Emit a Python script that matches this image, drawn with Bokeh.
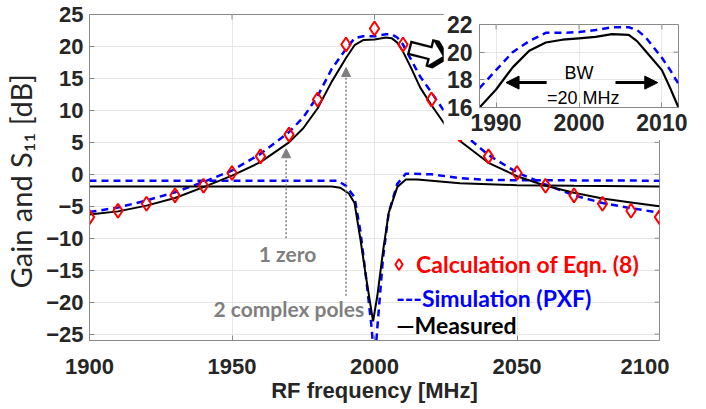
from bokeh.plotting import figure
from bokeh.models import Range1d, FixedTicker, Arrow, NormalHead
from bokeh.core.properties import value
from bokeh.embed import file_html
from bokeh.resources import INLINE
import math

# ---------------- data ----------------
calc_freq = [1900, 1910, 1920, 1930, 1940, 1950, 1960, 1970, 1980, 1990, 2000,
             2010, 2020, 2030, 2040, 2050, 2060, 2070, 2080, 2090, 2100]
calc_gain = [-6.7, -5.7, -4.6, -3.3, -1.8, 0.2, 2.8, 6.2, 11.7, 20.3, 22.8,
             20.3, 11.7, 6.2, 2.8, 0.2, -1.8, -3.3, -4.6, -5.7, -6.7]

gain_freq = [1900, 1910, 1920, 1930, 1940, 1950, 1960, 1970, 1975, 1980, 1985, 1990,
             1993, 1996, 2000, 2004, 2006, 2008, 2010, 2013, 2016, 2020, 2025, 2030,
             2040, 2050, 2060, 2070, 2080, 2090, 2100]
meas_gain = [-6.3, -5.8, -4.9, -3.7, -2.0, -0.2, 1.9, 5.0, 7.2, 10.3, 14.5, 18.2,
             20.2, 21.0, 21.1, 21.4, 21.3, 20.6, 19.2, 16.5, 13.6, 10.8, 7.6, 5.2,
             1.8, -0.3, -1.8, -2.9, -3.8, -4.4, -5.0]
sim_gain = [-5.9, -5.2, -4.1, -2.8, -1.2, 0.6, 3.2, 6.6, 8.9, 12.2, 16.5, 19.6,
            21.3, 21.6, 21.6, 21.9, 21.9, 21.4, 20.3, 17.8, 15.3, 12.8, 9.5, 6.8,
            3.0, 0.3, -1.6, -3.3, -4.5, -5.3, -6.0]

s11_meas_freq = [1900, 1985, 1988, 1991, 1993, 1995, 1997, 1999.5, 2001, 2003, 2005,
                 2008, 2011, 2015, 2030, 2050, 2070, 2100]
s11_meas = [-1.9, -1.9, -2.1, -3.0, -4.5, -10.0, -16.0, -23.0, -19.0, -12.0, -6.0,
            -2.0, -0.8, -0.8, -1.4, -1.7, -1.8, -1.9]
s11_sim_freq = [1900, 1987, 1990, 1993, 1995, 1997, 1999, 2000, 2001, 2003, 2005,
                2008, 2011, 2020, 2030, 2040, 2100]
s11_sim = [-1.0, -1.0, -1.8, -3.6, -8.8, -16.0, -24.0, -30.0, -24.0, -13.0, -6.0,
           -1.5, 0.1, 0.0, -0.6, -0.9, -1.0]

inset_freq = [1988, 1990, 1992, 1994, 1996, 1998, 2000, 2002, 2004, 2006, 2007,
              2008, 2010, 2011, 2012]
inset_meas = [16.0, 17.3, 18.9, 20.1, 20.7, 20.9, 21.0, 21.1, 21.3, 21.25, 20.8,
              20.1, 18.7, 17.4, 16.0]
inset_sim = [17.4, 18.7, 20.0, 20.8, 21.4, 21.4, 21.45, 21.6, 21.8, 21.8, 21.6,
             21.1, 19.6, 18.7, 17.7]

main_xticks = [1900, 1950, 2000, 2050, 2100]
main_yticks = [-25, -20, -15, -10, -5, 0, 5, 10, 15, 20, 25]
inset_xticks = [1990, 2000, 2010]
inset_yticks = [16, 18, 20, 22]

legend_labels = ["Calculation of Eqn. (8)", "---Simulation (PXF)", "\u2014Measured"]

# ---------------- styling ----------------
AX = "#8a8a8a"
TXT = "#262626"
GRID = "#e6e6e6"
BLUE = "#0000ff"
RED = "#ff0000"
GRAY = "#7f7f7f"
AXFONT = "Liberation Sans"


def style(fig, xt, yt, size, xr, yr):
    for ax in list(fig.below) + list(fig.left):
        ax.axis_line_color = AX
        ax.major_tick_line_color = AX
        ax.major_tick_in = 5
        ax.major_tick_out = 0
        ax.minor_tick_line_color = None
        ax.major_label_text_font = AXFONT
        ax.major_label_text_font_style = "bold"
        ax.major_label_text_font_size = size
        ax.major_label_text_color = TXT
    fig.below[0].ticker = FixedTicker(ticks=xt)
    fig.left[0].ticker = FixedTicker(ticks=yt)
    fig.xgrid.ticker = FixedTicker(ticks=xt)
    fig.ygrid.ticker = FixedTicker(ticks=yt)
    fig.grid.grid_line_color = GRID
    fig.outline_line_color = AX
    fig.outline_line_width = 1
    # inward tick marks on the top and right edges of the box
    fig.ray(x=xt, y=[yr[1]] * len(xt), length=5, angle=-math.pi / 2,
            length_units="screen", line_color=AX, line_width=1)
    fig.ray(x=[xr[1]] * len(yt), y=yt, length=5, angle=math.pi,
            length_units="screen", line_color=AX, line_width=1)


# ---------------- main figure ----------------
MX = (1900, 2100)
MY = (-26, 25)
p = figure(frame_width=570, frame_height=326, x_range=Range1d(*MX),
           y_range=Range1d(*MY), output_backend="svg", toolbar_location=None,
           name="main", min_border_left=85, min_border_top=14, min_border_right=10,
           min_border_bottom=50)
style(p, main_xticks, main_yticks, "22px", MX, MY)
xa = p.below[0]
ya = p.left[0]
xa.major_label_standoff = 18
ya.major_label_standoff = 6
xa.axis_label = "RF frequency [MHz]"
xa.axis_label_text_font = AXFONT
xa.axis_label_text_font_style = "bold"
xa.axis_label_text_font_size = "22px"
xa.axis_label_text_color = TXT
xa.axis_label_standoff = 1
ya.axis_label = "Gain and S\u2081\u2081  [dB]"
ya.axis_label_text_font = "Lato"
ya.axis_label_text_font_style = "normal"
ya.axis_label_text_font_size = "29px"
ya.axis_label_text_color = TXT
ya.axis_label_standoff = 5

p.line(s11_sim_freq, s11_sim, line_color=BLUE, line_width=2.5, line_dash="7 5")
p.line(gain_freq, sim_gain, line_color=BLUE, line_width=2.5, line_dash="7 5")
p.line(s11_meas_freq, s11_meas, line_color="black", line_width=2)
p.line(gain_freq, meas_gain, line_color="black", line_width=2)
p.scatter(calc_freq, calc_gain, marker="diamond", size=14, fill_color=None,
          line_color=RED, line_width=2)

# annotations
ghead = dict(size=9, fill_color=GRAY, line_color=GRAY)
p.add_layout(Arrow(end=NormalHead(**ghead), x_start=1969, y_start=-10, x_end=1969,
                   y_end=4.0, line_color=GRAY, line_width=1.5, line_dash="2 2"))
p.add_layout(Arrow(end=NormalHead(**ghead), x_start=1990, y_start=-19, x_end=1990,
                   y_end=16.7, line_color=GRAY, line_width=1.5, line_dash="2 2"))
annot = dict(text_font=value("Lato"), text_font_style="bold", text_font_size="21px",
             text_color=GRAY, text_baseline="middle")
p.text(x=[1969.5], y=[-12.4], text=["1 zero"], text_align="center", **annot)
p.text(x=[1996.4], y=[-21.0], text=["2 complex poles"], text_align="right", **annot)

leg = dict(text_font=value("Lato"), text_font_style="bold", text_font_size="23px",
           text_baseline="middle", text_align="left")
p.scatter([2008.6], [-14.1], marker="diamond", size=11, fill_color=None,
          line_color=RED, line_width=2)
p.text(x=[2014.6], y=[-14.1], text=[legend_labels[0]], text_color=RED, **leg)
p.text(x=[2007.6], y=[-19.3], text=[legend_labels[1]], text_color=BLUE, **leg)
p.text(x=[2007.6], y=[-23.5], text=[legend_labels[2]], text_color="black", **leg)

# hollow block arrow pointing at the inset
p.text(x=[2019.6], y=[19.3], text=["\u27a9"], angle=-0.25, text_align="center",
       text_baseline="middle", text_font=value("DejaVu Sans"),
       text_font_size="60px", text_color="black")

# ---------------- inset ----------------
IX = (1988, 2012)
IY = (16, 22)
q = figure(frame_width=199, frame_height=83, x_range=Range1d(*IX),
           y_range=Range1d(*IY), output_backend="svg", toolbar_location=None,
           name="inset", min_border_left=35, min_border_top=24, min_border_right=29,
           min_border_bottom=33)
style(q, inset_xticks, inset_yticks, "23px", IX, IY)
q.below[0].major_label_standoff = 6
q.left[0].major_label_standoff = 7
q.background_fill_color = "white"
q.border_fill_color = "white"
q.line(inset_freq, inset_sim, line_color=BLUE, line_width=2.5, line_dash="7 5")
q.line(inset_freq, inset_meas, line_color="black", line_width=2.2)
bhead = dict(size=13, fill_color="black", line_color="black")
q.add_layout(Arrow(end=NormalHead(**bhead), x_start=1996.1, y_start=17.8,
                   x_end=1991.2, y_end=17.8, line_width=3))
q.add_layout(Arrow(end=NormalHead(**bhead), x_start=2004.4, y_start=17.8,
                   x_end=2009.5, y_end=17.8, line_width=3))
itxt = dict(text_font=value(AXFONT), text_font_size="18px", text_color="black",
            text_align="center", text_baseline="middle")
q.text(x=[2000], y=[18.5], text=["BW"], **itxt)
q.text(x=[2000.5], y=[16.7], text=["=20 MHz"], **itxt)

TEMPLATE = """
{% from macros import embed %}
{% block contents %}
<style>html, body { overflow: hidden; }</style>
<div style="position:absolute;left:0px;top:0px;">{{ embed(roots.main) }}</div>
<div style="position:absolute;left:443px;top:0px;">{{ embed(roots.inset) }}</div>
{% endblock %}
"""

open("out.html", "w").write(file_html([p, q], INLINE, template=TEMPLATE))
